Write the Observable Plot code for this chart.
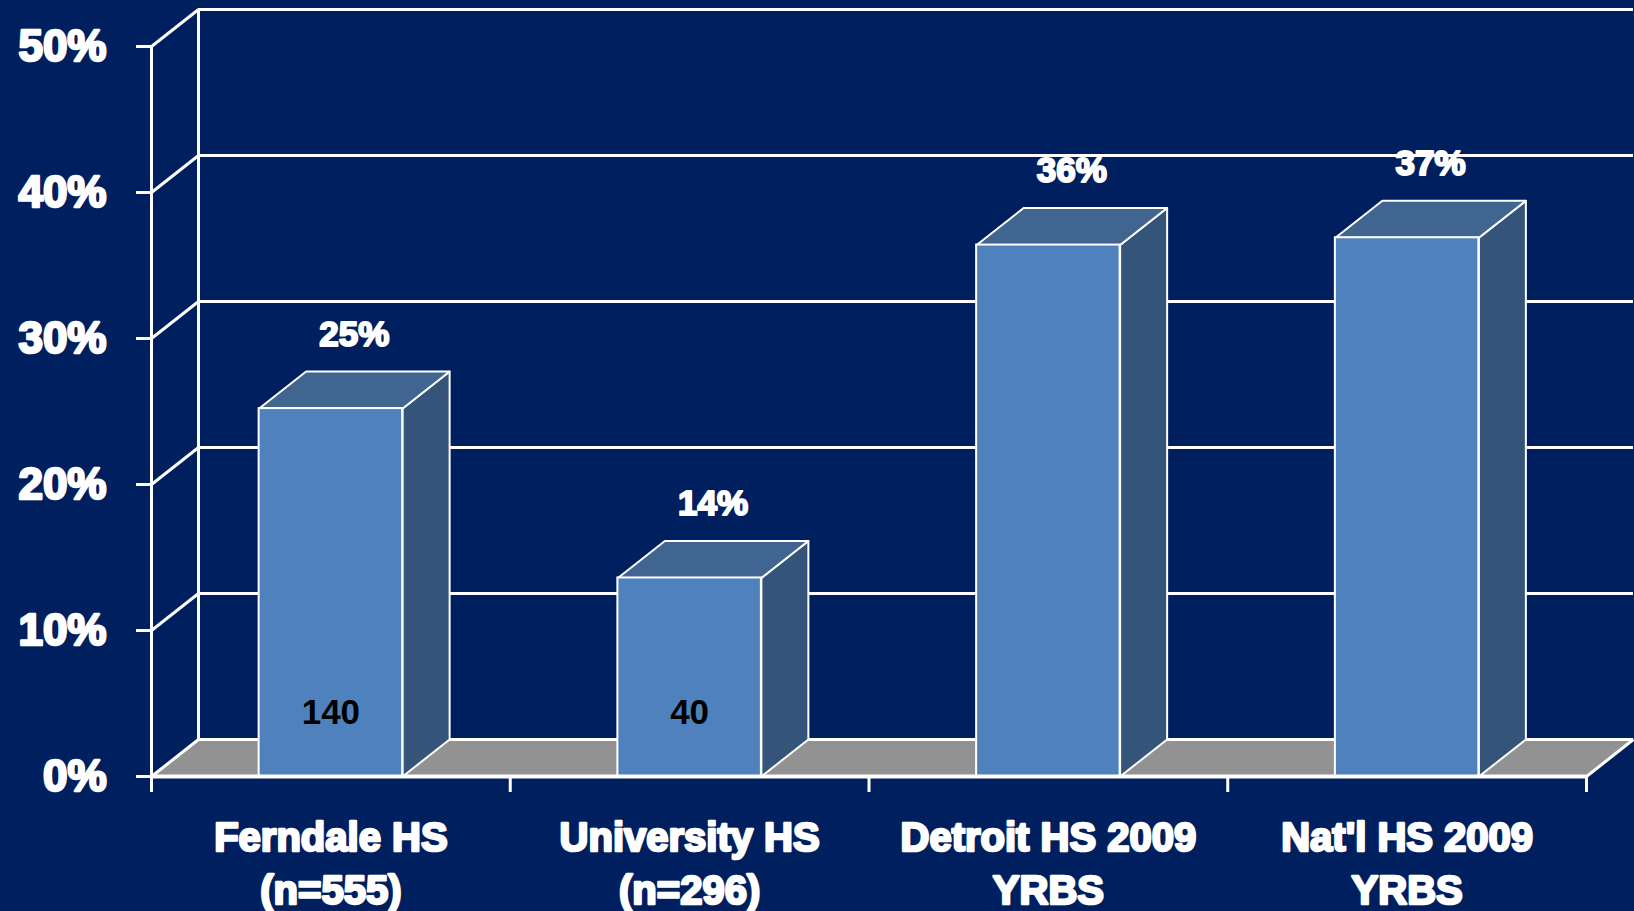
<!DOCTYPE html>
<html>
<head>
<meta charset="utf-8">
<script src="https://cdn.jsdelivr.net/npm/d3@7"></script>
<script src="https://cdn.jsdelivr.net/npm/@observablehq/plot@0.6"></script>
<style>
  html, body { margin: 0; padding: 0; background: #001f5e; }
  #chart svg { display: block; }
</style>
</head>
<body>
<div id="chart"></div>
<script>
// ---- data ----
const categories = ["Ferndale HS\n(n=555)", "University HS\n(n=296)", "Detroit HS 2009\nYRBS", "Nat'l HS 2009\nYRBS"];
const percents = [25.2, 13.6, 36.4, 36.9];
const counts = [140, 40, null, null];
const yTicks = [0, 10, 20, 30, 40, 50];

// ---- layout / style ----
const W = 1634, H = 911;
const mL = 151, mR = 48, mT = 46, mB = 135;
const depthPx = 47, risePx = 37;
const plotW = W - mL - mR, plotH = H - mT - mB;
const ddx = depthPx * categories.length / plotW;   // depth offset in x data units
const ddy = risePx * 50 / plotH;                    // depth offset in y data units
const half = 0.2;                                   // half bar width (in category units)

const BG = "#001f5e", FRONT = "#4f82bd", SIDE = "#34547a", TOP = "#3f6590", FLOOR = "#929292";
const FONT = "'Liberation Sans', Arial, sans-serif";

const bars = categories.map((c, i) => ({i, c, v: percents[i], n: counts[i], x1: i + 0.5 - half, x2: i + 0.5 + half}));

// polygons (as closed, filled lines)
const floorPoly = [[0, 0], [categories.length, 0], [categories.length + ddx, ddy], [ddx, ddy]].map(([x, y]) => ({x, y}));
const sidePolys = bars.flatMap(b => [[b.x2, 0], [b.x2 + ddx, ddy], [b.x2 + ddx, b.v + ddy], [b.x2, b.v], [b.x2, 0]].map(([x, y]) => ({x, y, k: b.i})));
const topPolys = bars.flatMap(b => [[b.x1, b.v], [b.x2, b.v], [b.x2 + ddx, b.v + ddy], [b.x1 + ddx, b.v + ddy], [b.x1, b.v]].map(([x, y]) => ({x, y, k: b.i})));

const chart = Plot.plot({
  width: W, height: H,
  marginLeft: mL, marginRight: mR, marginTop: mT, marginBottom: mB,
  style: {background: BG, color: "white", fontFamily: FONT, overflow: "visible"},
  x: {domain: [0, categories.length]},
  y: {domain: [0, 50]},
  marks: [
    // floor
    Plot.line(floorPoly, {x: "x", y: "y", fill: FLOOR, stroke: "none", curve: "linear-closed"}),
    // back wall gridlines
    Plot.ruleY(yTicks, {y: d => d + ddy, x1: ddx, x2: categories.length + ddx, stroke: "white", strokeWidth: 3}),
    // left wall diagonals
    Plot.link(yTicks, {x1: 0, y1: d => d, x2: ddx, y2: d => d + ddy, stroke: "white", strokeWidth: 3}),
    // left wall verticals
    Plot.ruleX([ddx], {y1: ddy, y2: 50 + ddy, stroke: "white", strokeWidth: 3}),
    Plot.ruleX([0], {y1: 0, y2: 50, stroke: "white", strokeWidth: 3}),
    // floor right edge
    Plot.link([0], {x1: categories.length, y1: 0, x2: categories.length + ddx, y2: ddy, stroke: "white", strokeWidth: 3}),
    // bars: side, top, front
    Plot.line(sidePolys, {x: "x", y: "y", z: "k", fill: SIDE, stroke: "white", strokeWidth: 2, curve: "linear-closed"}),
    Plot.line(topPolys, {x: "x", y: "y", z: "k", fill: TOP, stroke: "white", strokeWidth: 2, curve: "linear-closed"}),
    Plot.rect(bars, {x1: "x1", x2: "x2", y1: 0, y2: "v", fill: FRONT, stroke: "white", strokeWidth: 2, inset: 0}),
    // floor front edge (axis line)
    Plot.ruleY([0], {x1: 0, x2: categories.length, stroke: "white", strokeWidth: 4}),
    // y axis
    Plot.axisY({ticks: yTicks, tickSize: 15, tickPadding: 30, tickFormat: d => d + "%", fontSize: 44, fontWeight: "bold", stroke: "white", strokeWidth: 3, textStroke: "white", textStrokeWidth: 2.5}),
    // x ticks at band boundaries
    Plot.axisX({ticks: d3.range(categories.length + 1), tickSize: 16, tickFormat: () => "", stroke: "white", strokeWidth: 3}),
    // category labels
    Plot.axisX({ticks: categories.map((c, i) => i + 0.5), tickSize: 0, tickPadding: 37, tickFormat: d => categories[Math.round(d - 0.5)], fontSize: 40, fontWeight: "bold", lineHeight: 1.32, textStroke: "white", textStrokeWidth: 2.5}),
    // value labels
    Plot.text(bars, {x: b => b.i + 0.5 + ddx / 2, y: b => b.v + ddy, dy: -37, text: b => Math.round(b.v) + "%", fill: "white", stroke: "white", strokeWidth: 2, fontSize: 35, fontWeight: "bold"}),
    // count labels
    Plot.text(bars.filter(b => b.n != null), {x: b => b.i + 0.5, y: 0, dy: -64, text: b => String(b.n), fill: "black", fontSize: 35, fontWeight: "bold"})
  ]
});
document.getElementById("chart").append(chart);
</script>
</body>
</html>
